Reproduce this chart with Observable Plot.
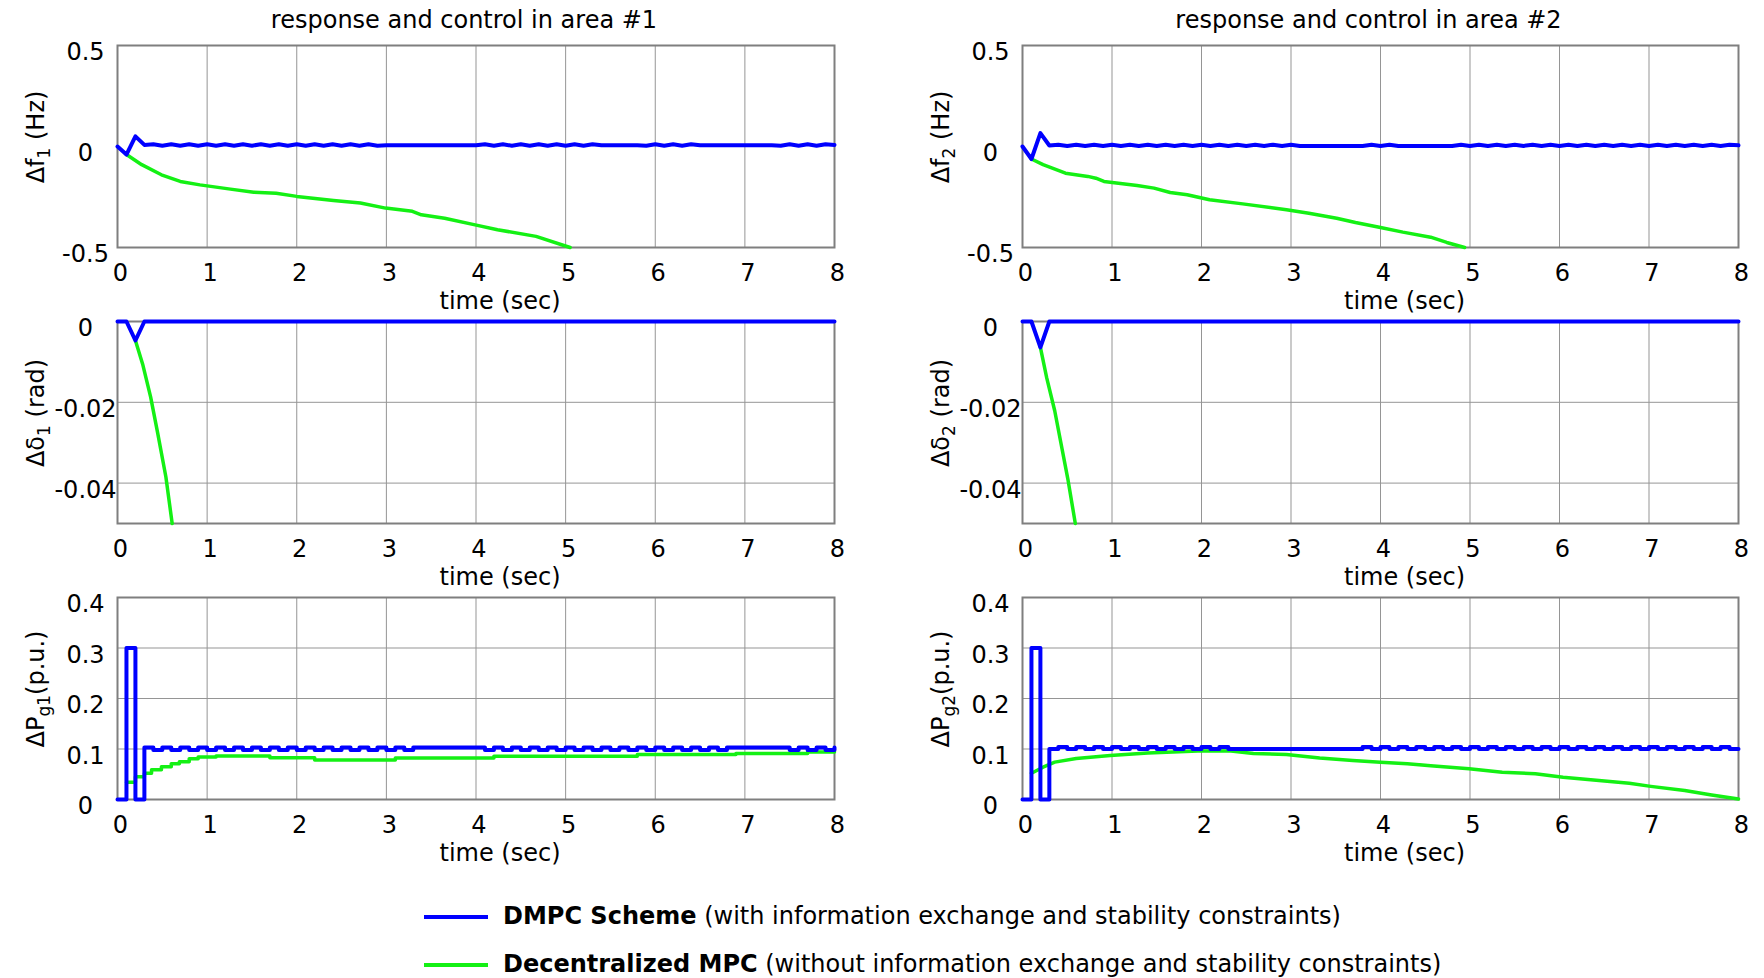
<!DOCTYPE html>
<html><head><meta charset="utf-8">
<script src="https://cdn.jsdelivr.net/npm/d3@7"></script>
<script src="https://cdn.jsdelivr.net/npm/@observablehq/plot@0.6"></script>
<style>
body{margin:0;background:#fff;}
#wrap{position:relative;width:1764px;height:978px;overflow:hidden;font-family:"DejaVu Sans",sans-serif;background:#fff;}
.panel{position:absolute;}
.leg{position:absolute;font-size:24px;line-height:28px;white-space:nowrap;color:#000;}
.legline{position:absolute;height:4px;}
</style></head><body><div id="wrap"></div>
<script>
// ---------- data ----------
const xTicks = [0,1,2,3,4,5,6,7,8];
const titles = ["response and control in area #1", "response and control in area #2"];
const legendBold = ["DMPC Scheme", "Decentralized MPC"];
const legendRest = [" (with information exchange and stability constraints)", " (without information exchange and stability constraints)"];

const t01 = [0,0.1,0.2,0.3,0.4,0.5,0.6,0.7,0.8,0.9,1,1.1,1.2,1.3,1.4,1.5,1.6,1.7,1.8,1.9,2,2.1,2.2,2.3,2.4,2.5,2.6,2.7,2.8,2.9,3,3.1,3.2,3.3,3.4,3.5,3.6,3.7,3.8,3.9,4,4.1,4.2,4.3,4.4,4.5,4.6,4.7,4.8,4.9,5,5.1,5.2,5.3,5.4,5.5,5.6,5.7,5.8,5.9,6,6.1,6.2,6.3,6.4,6.5,6.6,6.7,6.8,6.9,7,7.1,7.2,7.3,7.4,7.5,7.6,7.7,7.8,7.9,8];

// Δf1 (Hz)
const df1Blue = [0,-0.04,0.05,0.008,
 0.011,0.004,0.011,0.004,0.011,0.004,0.011,0.004,0.011,0.004,0.011,0.004,0.011,0.004,0.011,0.004,0.011,0.004,0.011,0.004,0.011,0.004,0.011,0.004,0.011,0.004,
 0.006,0.006,0.006,0.006,0.006,0.006,0.006,0.006,0.006,0.006,0.006,
 0.011,0.004,0.011,0.004,0.011,0.004,0.011,0.004,0.011,0.004,
 0.011,0.004,0.011,
 0.006,0.006,0.006,0.006,0.006,
 0.004,0.011,0.004,0.011,0.004,0.011,
 0.006,0.006,0.006,0.006,0.006,0.006,0.006,0.006,0.006,
 0.004,0.011,0.004,0.011,0.004,0.011,0.008];
const df1GreenT = [0.1,0.27,0.49,0.70,0.92,1.26,1.52,1.77,2.0,2.41,2.71,2.99,3.29,3.39,3.65,3.99,4.24,4.67,5.05];
const df1Green  = [-0.04,-0.09,-0.14,-0.173,-0.19,-0.211,-0.226,-0.231,-0.247,-0.267,-0.28,-0.305,-0.321,-0.338,-0.355,-0.388,-0.412,-0.445,-0.5];

// Δf2 (Hz)
const df2Blue = [0,-0.062,0.066,0.005,
 0.009,0.003,0.009,0.003,0.009,0.003,0.009,0.003,0.009,0.003,0.009,0.003,0.009,0.003,0.009,0.003,0.009,0.003,0.009,0.003,0.009,0.003,0.009,0.003,0.009,0.003,0.009,0.003,
 0.002,0.002,0.002,0.002,0.002,0.002,0.002,
 0.009,0.003,0.009,
 0.002,0.002,0.002,0.002,0.002,0.002,
 0.003,0.009,0.003,0.009,0.003,0.009,0.003,0.009,0.003,0.009,0.003,0.009,0.003,0.009,0.003,0.009,0.003,0.009,0.003,0.009,0.003,0.009,0.003,0.009,0.003,0.009,0.003,0.009,0.003,0.009,0.003,0.009,0.006];
const df2GreenT = [0.1,0.23,0.48,0.73,0.82,0.91,1.28,1.47,1.65,1.84,2.09,2.46,2.95,3.2,3.51,3.72,4.0,4.25,4.56,4.74,4.94];
const df2Green  = [-0.062,-0.09,-0.132,-0.148,-0.157,-0.173,-0.193,-0.206,-0.228,-0.239,-0.264,-0.284,-0.313,-0.33,-0.355,-0.376,-0.401,-0.424,-0.449,-0.475,-0.5];

// Δδ1, Δδ2 (rad)
const dd1BlueT = [0,0.1,0.2,0.3,8];
const dd1Blue  = [0,0,-0.0047,0,0];
const dd1GreenT = [0.2,0.28,0.37,0.45,0.54,0.61];
const dd1Green  = [-0.0047,-0.0105,-0.0187,-0.0278,-0.0385,-0.05];
const dd2BlueT = [0,0.1,0.2,0.3,8];
const dd2Blue  = [0,0,-0.0064,0,0];
const dd2GreenT = [0.2,0.27,0.36,0.51,0.59];
const dd2Green  = [-0.0064,-0.0139,-0.0221,-0.0394,-0.05];

// ΔPg1, ΔPg2 (p.u.)
const pg1Blue = [0,0.3,0,0.103,
 0.098,0.103,0.098,0.103,0.098,0.103,0.098,0.103,0.098,0.103,0.098,0.103,0.098,0.103,0.098,0.103,0.098,0.103,0.098,0.103,0.098,0.103,0.098,0.103,0.098,0.103,0.098,0.103,0.098,0.103,
 0.103,0.103,0.103,0.103,0.103,0.103,0.103,
 0.098,0.103,0.098,0.103,0.098,0.103,0.098,0.103,0.098,0.103,0.098,0.103,0.098,0.103,0.098,0.103,0.098,0.103,0.098,0.103,0.098,0.103,0.098,0.103,0.098,0.103,0.098,
 0.103,0.103,0.103,0.103,0.103,0.103,0.103,
 0.098,0.103,0.098,0.103,0.098,0.103];
const pg1GreenT = [0.1,0.2,0.3,0.38,0.49,0.6,0.69,0.8,0.9,1.1,1.7,2.2,3.1,4.2,5.8,6.9,7.7,8.0];
const pg1Green  = [0.034,0.045,0.052,0.059,0.065,0.071,0.075,0.0805,0.084,0.086,0.0826,0.078,0.082,0.0855,0.089,0.091,0.094,0.094];
const pg2Blue = [0,0.3,0,0.1,
 0.104,0.1,0.104,0.1,0.104,0.1,0.104,0.1,0.104,0.1,0.104,0.1,0.104,0.1,0.104,0.1,0.104,0.1,0.104,0.1,
 0.1,0.1,0.1,0.1,0.1,0.1,0.1,0.1,0.1,0.1,0.1,0.1,0.1,0.1,
 0.104,0.1,0.104,0.1,0.104,0.1,0.104,0.1,0.104,0.1,0.104,0.1,0.104,0.1,0.104,0.1,0.104,0.1,0.104,0.1,0.104,0.1,0.104,0.1,0.104,0.1,0.104,0.1,0.104,0.1,0.104,0.1,0.104,0.1,0.104,0.1,0.104,0.1,0.104,0.1,0.104,0.1,0.1];
const pg2GreenT = [0.1,0.23,0.36,0.6,0.98,1.4,1.96,2.33,2.58,2.95,3.32,3.69,4.0,4.3,4.56,4.99,5.36,5.73,6.04,6.41,6.78,7.02,7.4,7.7,8.0];
const pg2Green  = [0.052,0.064,0.074,0.081,0.087,0.092,0.096,0.096,0.091,0.089,0.082,0.077,0.074,0.071,0.067,0.061,0.054,0.051,0.044,0.038,0.032,0.026,0.018,0.009,0.001];

// ---------- style ----------
const BLUE = "#0000ff", GREEN = "#14f014", GRID = "#959595", FRAME = "#7f7f7f";
const FONT = "DejaVu Sans";
const wrap = document.getElementById("wrap");
const fmt = d => String(d);

function panel(o) {
  const blueData = o.bt.map((t, i) => ({t, v: o.bv[i]}));
  const greenData = o.gt.map((t, i) => ({t, v: o.gv[i]}));
  const ml = o.col === 0 ? 117 : 140, mr = o.col === 0 ? 48 : 26;
  const marks = [Plot.gridX(xTicks, {stroke: GRID, strokeOpacity: 1, strokeWidth: 1})];
  if (o.gridY) marks.push(Plot.gridY(o.gridY, {stroke: GRID, strokeOpacity: 1, strokeWidth: 1}));
  marks.push(
    Plot.frame({stroke: FRAME, strokeWidth: 2}),
    Plot.axisX({ticks: xTicks, tickSize: 0, tickPadding: 16, tickFormat: fmt, label: null, dx: 3}),
    Plot.axisY({ticks: o.yTicks, tickSize: 0, tickPadding: 32, textAnchor: "middle", tickFormat: fmt, label: null, dy: 7}),
    Plot.text(["time (sec)"], {frameAnchor: "bottom", dx: 24, dy: 61}),
    Plot.line(greenData, {x: "t", y: "v", stroke: GREEN, strokeWidth: 3.5, curve: o.gcurve || "linear"}),
    Plot.line(blueData, {x: "t", y: "v", stroke: BLUE, strokeWidth: 4, curve: o.bcurve || "linear"})
  );
  if (o.title) marks.push(Plot.text([o.title], {frameAnchor: "top", dy: -35, dx: -12}));
  const svg = Plot.plot({
    width: 882, height: 320,
    marginLeft: ml, marginRight: mr, marginTop: 45, marginBottom: 73,
    x: {domain: [0, 8]},
    y: {domain: o.yDomain},
    style: {background: "transparent", fontFamily: FONT, fontSize: "24px", overflow: "visible", color: "#000"},
    marks
  });
  // y label with subscripts
  const cy = 45 + 101 - 9;
  const txt = d3.select(svg).append("text")
    .attr("transform", `translate(${ml - 73},${cy}) rotate(-90)`)
    .attr("text-anchor", "middle")
    .attr("font-size", 24)
    .attr("font-family", FONT)
    .attr("fill", "#000");
  let shifted = false;
  for (const [s, sub] of o.ylabel) {
    const ts = txt.append("tspan").text(s);
    if (sub && !shifted) { ts.attr("dy", 6).attr("font-size", 17); shifted = true; }
    else if (!sub && shifted) { ts.attr("dy", -6); shifted = false; }
  }
  const div = document.createElement("div");
  div.className = "panel";
  div.style.left = (o.col * 882) + "px";
  div.style.top = (o.row * 276) + "px";
  div.appendChild(svg);
  wrap.appendChild(div);
}

panel({row: 0, col: 0, title: titles[0], yDomain: [-0.5, 0.5], yTicks: [-0.5, 0, 0.5],
  bt: t01, bv: df1Blue, gt: df1GreenT, gv: df1Green, ylabel: [["Δf", 0], ["1", 1], [" (Hz)", 0]]});
panel({row: 0, col: 1, title: titles[1], yDomain: [-0.5, 0.5], yTicks: [-0.5, 0, 0.5],
  bt: t01, bv: df2Blue, gt: df2GreenT, gv: df2Green, ylabel: [["Δf", 0], ["2", 1], [" (Hz)", 0]]});
panel({row: 1, col: 0, yDomain: [-0.05, 0], yTicks: [-0.04, -0.02, 0], gridY: [-0.04, -0.02],
  bt: dd1BlueT, bv: dd1Blue, gt: dd1GreenT, gv: dd1Green, ylabel: [["Δδ", 0], ["1", 1], [" (rad)", 0]]});
panel({row: 1, col: 1, yDomain: [-0.05, 0], yTicks: [-0.04, -0.02, 0], gridY: [-0.04, -0.02],
  bt: dd2BlueT, bv: dd2Blue, gt: dd2GreenT, gv: dd2Green, ylabel: [["Δδ", 0], ["2", 1], [" (rad)", 0]]});
panel({row: 2, col: 0, yDomain: [0, 0.4], yTicks: [0, 0.1, 0.2, 0.3, 0.4], gridY: [0.1, 0.2, 0.3],
  bt: t01, bv: pg1Blue, bcurve: "step-after", gt: pg1GreenT, gv: pg1Green, gcurve: "step-after",
  ylabel: [["ΔP", 0], ["g1", 1], ["(p.u.)", 0]]});
panel({row: 2, col: 1, yDomain: [0, 0.4], yTicks: [0, 0.1, 0.2, 0.3, 0.4], gridY: [0.1, 0.2, 0.3],
  bt: t01, bv: pg2Blue, bcurve: "step-after", gt: pg2GreenT, gv: pg2Green,
  ylabel: [["ΔP", 0], ["g2", 1], ["(p.u.)", 0]]});

// legend
const legColors = [BLUE, GREEN];
const legY = [917, 965];
legendBold.forEach((b, i) => {
  const line = document.createElement("div");
  line.className = "legline";
  line.style.left = "424px"; line.style.width = "64px";
  line.style.top = (legY[i] - 2) + "px";
  line.style.background = legColors[i];
  wrap.appendChild(line);
  const t = document.createElement("div");
  t.className = "leg";
  t.style.left = "503px";
  t.style.top = (legY[i] - 15) + "px";
  const bb = document.createElement("b");
  bb.textContent = b;
  t.appendChild(bb);
  t.appendChild(document.createTextNode(legendRest[i]));
  wrap.appendChild(t);
});
</script>
</body></html>
